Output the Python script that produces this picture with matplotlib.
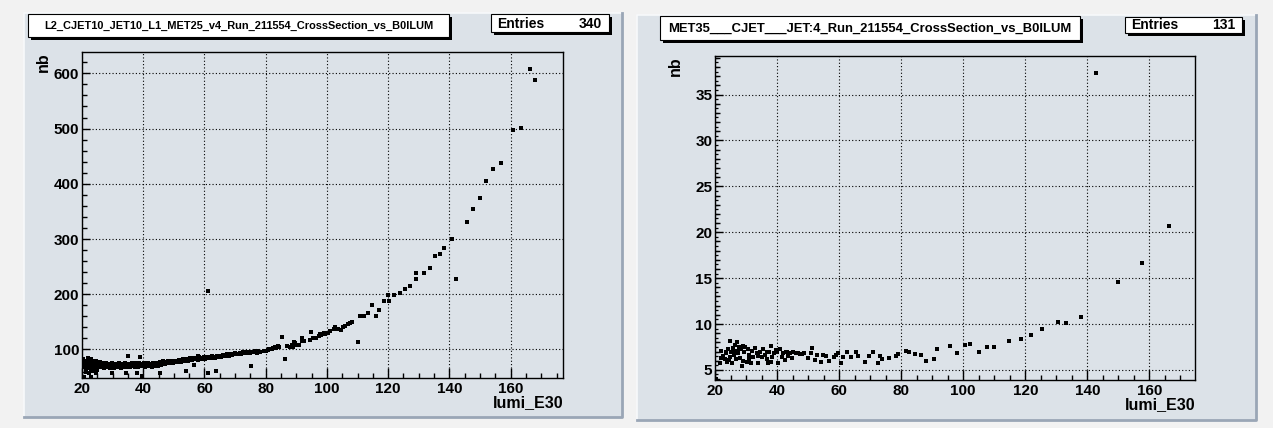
import matplotlib
matplotlib.use("Agg")
import matplotlib.pyplot as plt
from matplotlib.patches import Rectangle
from matplotlib.lines import Line2D
from matplotlib.ticker import MultipleLocator, NullLocator

# ---- data (lumi_E30, nb) ----
left_band_20_25 = [(20.3, 76), (20.4, 82), (20.5, 72), (20.6, 68), (20.8, 79), (21.0, 74), (21.2, 70),
                   (21.3, 65), (21.4, 60), (21.5, 77), (21.7, 73), (21.8, 69), (21.9, 84), (22.0, 80),
                   (22.1, 75), (22.2, 58), (22.3, 71), (22.4, 66), (22.6, 78), (22.8, 73), (22.9, 63),
                   (23.0, 83), (23.1, 76), (23.2, 70), (23.4, 67), (23.5, 79), (23.6, 61), (23.7, 74),
                   (23.9, 71), (24.0, 64), (24.2, 77), (24.4, 72), (24.5, 68), (24.7, 80), (24.8, 62),
                   (24.9, 75), (25.0, 70)]
left_band_25_35 = [(25.3, 74), (25.6, 68), (25.8, 77), (26.0, 72), (26.3, 69), (26.5, 76), (26.8, 71),
                   (27.0, 74), (27.2, 67), (27.5, 73), (27.8, 70), (28.0, 76), (28.3, 72), (28.5, 68),
                   (28.8, 74), (29.0, 70), (29.3, 66), (29.5, 73), (29.8, 75), (30.0, 69), (30.3, 72),
                   (30.5, 67), (30.8, 74), (31.0, 70), (31.3, 73), (31.5, 68), (31.8, 71), (32.0, 75),
                   (32.3, 69), (32.5, 72), (32.8, 67), (33.0, 74), (33.3, 70), (33.5, 72), (33.8, 68),
                   (34.0, 75), (34.3, 71), (34.6, 69), (34.9, 73)]
left_band_35_45 = [(35.2, 70), (35.5, 74), (35.8, 68), (36.0, 72), (36.3, 76), (36.6, 70), (36.9, 73),
                   (37.2, 69), (37.5, 75), (37.8, 71), (38.1, 73), (38.4, 68), (38.7, 76), (39.0, 72),
                   (39.3, 70), (39.6, 74), (39.9, 71), (40.2, 75), (40.5, 69), (40.8, 73), (41.1, 71),
                   (41.4, 76), (41.7, 72), (42.0, 70), (42.3, 74), (42.6, 73), (42.9, 69), (43.2, 75),
                   (43.5, 72), (43.8, 70), (44.1, 74), (44.4, 76), (44.7, 71)]
left_band_45_60 = [(45.0, 74), (45.4, 78), (45.8, 72), (46.2, 76), (46.6, 79), (47.0, 74), (47.4, 77),
                   (47.8, 75), (48.2, 79), (48.6, 76), (49.0, 78), (49.4, 80), (49.8, 76), (50.2, 78),
                   (50.6, 80), (51.0, 77), (51.4, 79), (51.8, 81), (52.2, 78), (52.6, 80), (53.0, 82),
                   (53.4, 79), (53.8, 81), (54.2, 83), (54.6, 80), (55.0, 82), (55.4, 84), (55.8, 81),
                   (56.2, 83), (56.6, 85), (57.0, 82), (57.4, 84), (57.8, 81), (58.2, 86), (58.6, 83),
                   (59.0, 85), (59.4, 82), (59.8, 86)]
left_band_60_80 = [(60.2, 83), (60.6, 86), (61.0, 84), (61.5, 87), (62.0, 85), (62.5, 88), (63.0, 86),
                   (63.5, 84), (64.0, 88), (64.5, 87), (65.0, 89), (65.5, 86), (66.0, 90), (66.5, 88),
                   (67.0, 89), (67.5, 91), (68.0, 88), (68.5, 92), (69.0, 90), (69.5, 91), (70.0, 93),
                   (70.5, 91), (71.0, 92), (71.5, 94), (72.0, 92), (72.5, 95), (73.0, 93), (73.5, 94),
                   (74.0, 96), (74.5, 95), (75.0, 93), (75.5, 96), (76.0, 95), (76.5, 97), (77.0, 94),
                   (77.5, 97), (78.0, 96), (78.3, 95.8), (79.6, 97.6)]
left_rise = [(80.0, 98), (80.7, 99.4), (81.0, 101), (81.9, 101.8), (82.5, 103), (83.1, 104.8), (83.5, 103),
             (84.0, 106.0), (84.5, 104), (85.4, 122.3), (86.3, 83.1), (87.1, 106.6), (88.0, 104),
             (88.5, 107.8), (89.0, 105), (89.3, 113.3), (89.6, 111), (90.0, 108), (91.0, 109.0),
             (91.7, 117.5), (91.8, 121.1), (92.0, 116), (92.5, 116), (94.6, 118.1), (94.9, 132.5),
             (95.5, 120), (96.3, 121.7), (97.4, 124.1), (97.7, 127.7), (98.0, 127), (99.0, 130.7),
             (99.5, 128), (100.4, 130.7), (101.0, 133.1), (102.4, 136.7), (102.6, 141.0), (103.5, 138),
             (104.6, 135.5), (105.3, 140.4), (105.8, 142), (106.8, 145.8), (107.5, 148), (108.1, 150.6),
             (110.0, 113.9), (110.9, 160.2), (112.0, 160.8), (113.3, 166.3), (114.7, 181.3),
             (116.0, 161.4), (117.1, 172.3), (118.5, 188.6), (120.1, 198.8), (120.4, 188.6),
             (122.0, 199.4), (123.8, 203.0), (125.5, 209.0), (127.1, 215.1), (129.0, 227.7),
             (129.2, 238.0), (131.8, 238.0), (133.6, 248.2), (135.2, 269.3), (137.0, 272.3),
             (138.2, 283.1), (140.9, 299.4), (142.2, 227.1), (145.8, 330.1), (147.8, 354.8),
             (150.0, 373.9), (152.0, 404.8), (154.1, 426.6), (157.0, 437.3), (160.7, 498.2),
             (163.3, 500.6), (166.4, 607.8), (167.9, 588.6)]
left_outliers = [(20.8, 49.5), (22.9, 50.7), (24.6, 57), (29.7, 58), (34.3, 58), (38.1, 58), (39.5, 52),
                 (45.5, 57), (54.0, 61), (61.0, 58), (63.8, 61), (75.1, 70.7), (35.1, 88.8), (38.9, 87),
                 (57.8, 88.8), (56.6, 71.7), (61.3, 205.4)]

right_points = [(20.4, 4.0), (21.7, 5.7), (21.9, 7.1), (22.0, 6.3), (22.5, 6.5), (23.1, 6.2), (23.4, 7.0),
                (23.6, 6.8), (23.8, 5.9), (24.1, 7.25), (24.4, 6.1), (24.7, 8.2), (24.9, 6.45), (25.2, 6.9),
                (25.5, 5.8), (25.7, 7.35), (25.9, 7.1), (26.2, 6.6), (26.5, 7.7), (26.8, 7.1), (26.9, 6.2),
                (27.0, 8.0), (27.4, 6.8), (27.6, 7.3), (27.8, 7.5), (28.1, 6.3), (28.4, 7.25), (28.6, 5.4),
                (28.9, 7.6), (29.0, 6.0), (29.4, 6.9), (29.7, 7.5), (30.2, 5.9), (30.7, 7.25), (30.9, 6.2),
                (31.1, 6.6), (31.5, 5.7), (31.8, 7.1), (32.4, 6.45), (32.9, 7.35), (33.4, 6.8), (33.8, 6.5),
                (34.0, 5.8), (34.5, 7.0), (35.1, 6.4), (35.6, 7.25), (36.1, 6.6), (36.6, 6.2), (36.9, 6.9),
                (37.2, 5.7), (37.5, 7.0), (37.9, 7.6), (38.2, 5.9), (38.5, 6.4), (39.0, 6.8), (39.6, 7.2),
                (40.1, 7.0), (40.4, 5.8), (40.9, 7.25), (41.5, 6.4), (42.0, 6.8), (42.5, 6.1), (42.8, 6.9),
                (43.1, 7.0), (43.6, 6.5), (44.1, 6.8), (44.7, 6.3), (45.2, 6.9), (46.1, 6.8), (46.8, 6.8),
                (47.3, 6.7), (47.9, 6.7), (48.6, 6.8), (50.0, 6.3), (51.1, 6.8), (51.4, 7.35), (52.2, 6.1),
                (52.9, 6.6), (54.3, 5.9), (54.8, 6.6), (55.9, 6.5), (56.8, 6.0), (58.3, 6.45), (59.1, 6.6),
                (59.7, 6.8), (60.7, 5.8), (61.3, 6.45), (62.6, 7.0), (63.9, 6.45), (65.5, 6.9), (66.1, 6.55),
                (68.5, 5.9), (69.6, 6.55), (70.9, 6.9), (72.5, 5.8), (73.3, 6.55), (73.9, 6.15), (76.0, 6.3),
                (78.4, 6.5), (78.9, 6.7), (81.4, 7.1), (82.5, 6.96), (84.4, 6.74), (86.4, 6.63), (88.1, 6.0),
                (90.7, 6.23), (91.6, 7.28), (95.6, 7.64), (97.9, 6.85), (100.5, 7.75), (102.1, 7.83),
                (105.0, 7.0), (107.6, 7.54), (110.0, 7.54), (114.7, 8.15), (118.6, 8.37), (121.8, 8.84),
                (125.4, 9.46), (130.4, 10.25), (133.0, 10.1), (138.1, 10.73), (142.8, 37.3), (149.9, 14.53),
                (157.6, 16.67), (166.3, 20.65)]

left_title = "L2_CJET10_JET10_L1_MET25_v4_Run_211554_CrossSection_vs_B0ILUM"
right_title = "MET35___CJET___JET:4_Run_211554_CrossSection_vs_B0ILUM"
left_entries = 340
right_entries = 131

W, H = 1273, 428
PAD_COLOR = "#dce2e8"
FONT = "Liberation Sans"

fig = plt.figure(figsize=(W / 100, H / 100), dpi=100)
fig.patch.set_facecolor("#f2f2f2")


def fx(x):
    return x / W


def fy(y):
    return 1 - y / H


def pad(x0, y0, x1, y1):
    fig.add_artist(Rectangle((fx(x0), fy(y1)), fx(x1 - x0), (y1 - y0) / H, transform=fig.transFigure,
                             facecolor=PAD_COLOR, edgecolor="none", zorder=-2))
    # bevel: light top/left, dark bottom/right
    fig.add_artist(Line2D([fx(x0), fx(x0), fx(x1)], [fy(y1), fy(y0), fy(y0)], transform=fig.transFigure,
                          color="#f7f9fb", lw=1.2, zorder=-1))
    fig.add_artist(Line2D([fx(x0), fx(x1), fx(x1)], [fy(y1), fy(y1), fy(y0)], transform=fig.transFigure,
                          color="#9aa6b6", lw=2.0, zorder=-1))


def box(x0, y0, x1, y1):
    # black drop shadow then white box
    fig.add_artist(Rectangle((fx(x0 + 3), fy(y1 + 3)), fx(x1 - x0), (y1 - y0) / H,
                             transform=fig.transFigure, facecolor="black", edgecolor="none", zorder=3))
    fig.add_artist(Rectangle((fx(x0), fy(y1)), fx(x1 - x0), (y1 - y0) / H, transform=fig.transFigure,
                             facecolor="white", edgecolor="black", lw=0.8, zorder=4))


def panel(pad_px, frame_px, xlim, ylim, ymajor, yminor, ytiny, pts, title, title_px, title_size,
          entries, entries_px, nb_x):
    pad(*pad_px)
    x0, y0, x1, y1 = frame_px
    rect = [fx(x0), fy(y1), fx(x1 - x0), (y1 - y0) / H]
    ax = fig.add_axes(rect)
    ax.set_facecolor(PAD_COLOR)
    lumi = [p[0] for p in pts]
    nb = [p[1] for p in pts]
    ax.plot(lumi, nb, "s", ms=2.6, mew=0, color="black", zorder=3)
    ax.set_xlim(*xlim)
    ax.set_ylim(*ylim)
    ax.xaxis.set_major_locator(MultipleLocator(20))
    ax.xaxis.set_minor_locator(MultipleLocator(5))
    ax.yaxis.set_major_locator(MultipleLocator(ymajor))
    ax.yaxis.set_minor_locator(MultipleLocator(yminor))
    ax.tick_params(which="both", direction="in", top=False, right=False, colors="black")
    ax.tick_params(axis="x", which="major", length=7, width=1, pad=3)
    ax.tick_params(axis="x", which="minor", length=3.5, width=1)
    ax.tick_params(axis="y", which="major", length=6, width=1, pad=2)
    ax.tick_params(axis="y", which="minor", length=3.5, width=1)
    for lab in ax.get_xticklabels() + ax.get_yticklabels():
        lab.set_fontfamily(FONT)
        lab.set_fontweight("bold")
        lab.set_fontsize(11)
    ax.grid(True, which="major", color="black", linestyle=(0, (1, 2)), lw=0.8)
    for s in ax.spines.values():
        s.set_linewidth(1.0)
        s.set_color("black")
    ax.set_xlabel("lumi_E30", loc="right", fontfamily=FONT, fontweight="bold", fontsize=11.5)
    ax.xaxis.set_label_coords(1.0, -17 / (y1 - y0))
    ax.set_ylabel("nb", loc="top", fontfamily=FONT, fontweight="bold", fontsize=11.5)
    ax.yaxis.set_label_coords((nb_x - x0) / (x1 - x0), 1.0)

    if ytiny:
        # ROOT-style third level of small ticks on the y axis
        tx = fig.add_axes(rect, frameon=False)
        tx.patch.set_visible(False)
        tx.set_ylim(*ylim)
        tx.xaxis.set_major_locator(NullLocator())
        tx.yaxis.set_major_locator(NullLocator())
        tx.yaxis.set_minor_locator(MultipleLocator(ytiny))
        tx.tick_params(axis="y", which="minor", direction="in", length=2, width=0.9, colors="black")

    tx0, ty0, tx1, ty1 = title_px
    box(tx0, ty0, tx1, ty1)
    fig.text(fx((tx0 + tx1) / 2), fy((ty0 + ty1) / 2 + 0.5), title, ha="center", va="center",
             fontfamily=FONT, fontweight="bold", fontsize=title_size, zorder=5)
    ex0, ey0, ex1, ey1 = entries_px
    box(ex0, ey0, ex1, ey1)
    fig.text(fx(ex0 + 6), fy(ey1 - 4), "Entries", ha="left", va="baseline",
             fontfamily=FONT, fontweight="bold", fontsize=10, zorder=5)
    fig.text(fx(ex1 - 7), fy(ey1 - 4), str(entries), ha="right", va="baseline",
             fontfamily=FONT, fontweight="bold", fontsize=10, zorder=5)
    return ax


left_pts = left_band_20_25 + left_band_25_35 + left_band_35_45 + left_band_45_60 + left_band_60_80 \
    + left_rise + left_outliers

panel((24, 13, 622, 417), (82, 52, 563, 378), (20, 177.1), (48.4, 638.6), 100, 20, None, left_pts,
      left_title, (28, 14, 449, 37), 7.95, left_entries, (491, 14, 609, 32), 51)
panel((637, 15, 1256, 420), (715, 56, 1195, 380), (20, 174.7), (3.9, 39.2), 5, 1, 0.5, right_points,
      right_title, (660, 16, 1080, 40), 9.4, right_entries, (1125, 17, 1242, 33), 683)

fig.savefig("out.png", dpi=100, facecolor=fig.get_facecolor())
